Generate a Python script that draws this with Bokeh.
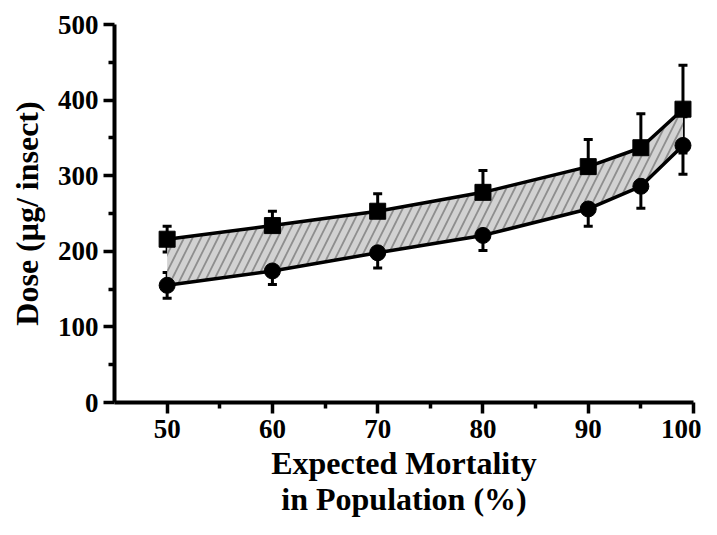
from bokeh.plotting import figure
from bokeh.models import ColumnDataSource, Range1d, FixedTicker, Whisker, TeeHead
from bokeh.embed import file_html
from bokeh.resources import INLINE

# Data
mortality = [50, 60, 70, 80, 90, 95, 99]
dose_upper = [216, 234, 253, 278, 312, 337, 388]      # squares
dose_upper_err = [17, 19, 23, 29, 36, 45, 58]
dose_lower = [155, 174, 198, 221, 256, 286, 340]      # circles
dose_lower_err = [17, 18, 20, 20, 23, 29, 38]

x_ticks = [50, 60, 70, 80, 90, 100]
x_minor = [55, 65, 75, 85, 95]
y_ticks = [0, 100, 200, 300, 400, 500]
y_minor = [50, 150, 250, 350, 450]

FONT = "Liberation Serif"

src = ColumnDataSource(dict(
    x=mortality,
    up=dose_upper,
    lo=dose_lower,
    up_hi=[v + e for v, e in zip(dose_upper, dose_upper_err)],
    up_lo=[v - e for v, e in zip(dose_upper, dose_upper_err)],
    lo_hi=[v + e for v, e in zip(dose_lower, dose_lower_err)],
    lo_lo=[v - e for v, e in zip(dose_lower, dose_lower_err)],
))

p = figure(width=701, height=519, output_backend="svg", toolbar_location=None,
           x_range=Range1d(45, 100), y_range=Range1d(0, 500),
           min_border_left=114, min_border_right=8, min_border_top=24, min_border_bottom=110)
p.outline_line_color = None
p.grid.visible = False
p.background_fill_color = "white"
p.border_fill_color = "white"

# shaded hatched band
p.varea(x="x", y1="lo", y2="up", source=src, fill_color="#d2d2d2",
        hatch_pattern="/", hatch_color="#8e8e8e", hatch_scale=17, hatch_weight=1.8)

p.line(x="x", y="up", source=src, line_color="black", line_width=3.5)
p.line(x="x", y="lo", source=src, line_color="black", line_width=3.5)

for hi, lo in (("up_hi", "up_lo"), ("lo_hi", "lo_lo")):
    w = Whisker(base="x", upper=hi, lower=lo, source=src, line_color="black", line_width=3,
                upper_head=TeeHead(size=9, line_width=3, line_color="black"),
                lower_head=TeeHead(size=9, line_width=3, line_color="black"))
    p.add_layout(w)

p.scatter(x="x", y="up", source=src, marker="square", size=16, fill_color="black", line_color="black")
p.scatter(x="x", y="lo", source=src, marker="circle", size=16, fill_color="black", line_color="black")

for ax in (p.xaxis[0], p.yaxis[0]):
    ax.axis_line_width = 4
    ax.major_tick_line_width = 3.5
    ax.minor_tick_line_width = 3.5
    ax.major_tick_out = 11
    ax.major_tick_in = 0
    ax.minor_tick_out = 6
    ax.minor_tick_in = 0
    ax.major_label_text_font = FONT
    ax.major_label_text_font_style = "bold"
    ax.major_label_text_font_size = "27px"
    ax.major_label_text_color = "black"
    ax.axis_label_text_font = FONT
    ax.axis_label_text_font_style = "bold"
    ax.axis_label_text_font_size = "32px"
    ax.axis_label_text_color = "black"
    ax.axis_label_text_line_height = 1.0

p.xaxis[0].ticker = FixedTicker(ticks=x_ticks, minor_ticks=x_minor)
p.yaxis[0].ticker = FixedTicker(ticks=y_ticks, minor_ticks=y_minor)
p.xaxis[0].major_label_standoff = 6
p.yaxis[0].major_label_standoff = 5
p.xaxis[0].axis_label = "Expected Mortality\nin Population (%)"
p.yaxis[0].axis_label = "Dose (μg/ insect)"
p.xaxis[0].axis_label_standoff = 4
p.yaxis[0].axis_label_standoff = 10

open("out.html", "w").write(file_html(p, INLINE))
